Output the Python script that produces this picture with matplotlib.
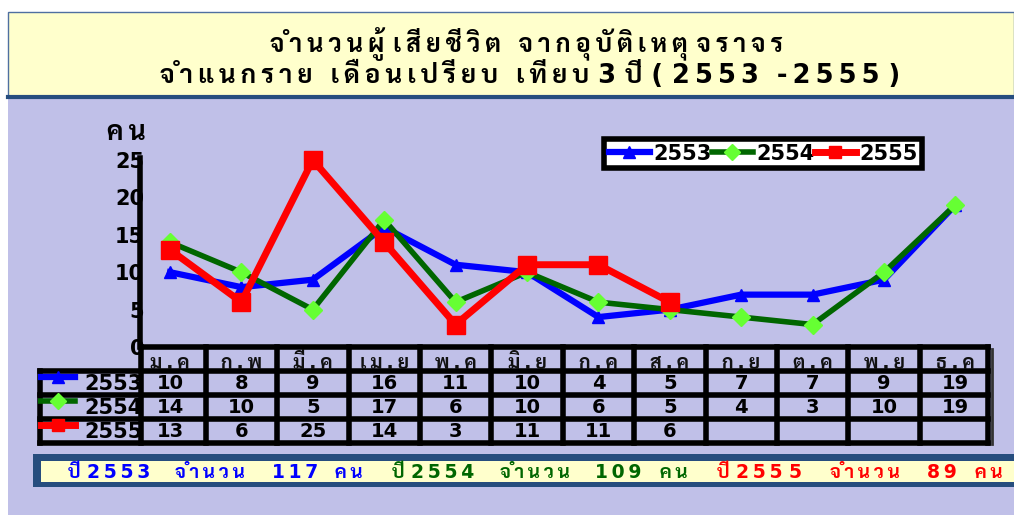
import matplotlib
matplotlib.use("Agg")
import matplotlib.pyplot as plt
from matplotlib.patches import Rectangle
import numpy as np

plt.rcParams['font.family'] = ['DejaVu Sans', 'Sarabun']
plt.rcParams['font.weight'] = 'bold'

# data
months = ['ม.ค', 'ก.พ', 'มี.ค', 'เม.ย', 'พ.ค', 'มิ.ย', 'ก.ค', 'ส.ค', 'ก.ย', 'ต.ค', 'พ.ย', 'ธ.ค']
years = ['2553', '2554', '2555']
y2553 = [10, 8, 9, 16, 11, 10, 4, 5, 7, 7, 9, 19]
y2554 = [14, 10, 5, 17, 6, 10, 6, 5, 4, 3, 10, 19]
y2555 = [13, 6, 25, 14, 3, 11, 11, 6]
totals = [117, 109, 89]
yticks = [0, 5, 10, 15, 20, 25]

lav = '#C0C0E8'
yel = '#FFFFCC'
navy = '#264D7E'
W, H = 1014, 515

MARKS = set(chr(c) for c in [0x0E31] + list(range(0x0E34, 0x0E3B)) + list(range(0x0E47, 0x0E4F)))


def spaced(s, gap='\u2009'):
    # add thin spaces between glyph clusters (keeps thai marks attached)
    out = ''
    for i, ch in enumerate(s):
        out += ch
        nxt = s[i + 1] if i + 1 < len(s) else None
        if nxt is not None and nxt not in MARKS and ch != ' ' and nxt != ' ':
            out += gap
    return out


fig = plt.figure(figsize=(10.14, 5.15), dpi=100)
fig.patch.set_facecolor('white')

# background / decoration axes in pixel coords
bg = fig.add_axes([0, 0, 1, 1])
bg.set_xlim(0, W)
bg.set_ylim(H, 0)
bg.axis('off')
bg.add_patch(Rectangle((8, 12), W - 8, H - 12, facecolor=lav, edgecolor='none'))
bg.add_patch(Rectangle((8, 12), W - 8, 84, facecolor=yel, edgecolor='#4F6FA0', lw=1))
bg.plot([8, W], [96.5, 96.5], color=navy, lw=3)
bg.text(527, 44, spaced('จำนวนผู้ เสียชีวิต  จากอุบัติเหตุ จราจร'), ha='center', va='center',
        fontsize=18)
bg.text(530, 75, spaced('จำแนกราย  เดือนเปรียบ  เทียบ 3 ปี ( 2553  -2555 )'), ha='center',
        va='center', fontsize=18.5)
bg.text(126, 133, spaced('คน'), ha='center', va='center', fontsize=19)

# bottom summary box
bg.add_patch(Rectangle((33, 454), W - 33, 33, facecolor=navy, edgecolor='none'))
bg.add_patch(Rectangle((41, 461), W - 41, 21, facecolor=yel, edgecolor='none'))
cols = ['#0000FF', '#006600', '#FF0000']
segx = [(68, 175, 272, 335), (392, 500, 595, 660), (717, 830, 927, 975)]
yrlab = ['ปี 2553', 'ปี 2554', 'ปี 255 5']
for k in range(3):
    xs = segx[k]
    for x, s in zip(xs, [yrlab[k], 'จำนวน', str(totals[k]), 'คน']):
        bg.text(x, 472, spaced(s), ha='left', va='center', color=cols[k], fontsize=13.5)

# chart axes
x0 = 170.0
dx = 71.4


def u(px):
    return (px - x0) / dx


ax = fig.add_axes([140 / W, (H - 347) / H, 850 / W, 187 / H])
ax.patch.set_alpha(0)
ax.set_xlim(u(140), u(990))
ax.set_ylim(0, 25)
for s in ['top', 'right', 'bottom']:
    ax.spines[s].set_visible(False)
ax.spines['left'].set_linewidth(4)
ax.spines['left'].set_bounds(0, 25.3)
ax.set_xticks([])
ax.set_yticks(yticks)
ax.tick_params(axis='y', length=0, pad=-3, labelsize=15)

xm = np.arange(len(months))
h1, = ax.plot(xm, y2553, color='#0000FF', lw=4.5, marker='^', ms=9, mfc='#0000FF',
              mec='#0000FF', zorder=3)
h2, = ax.plot(xm, y2554, color='#006600', lw=4, marker='D', ms=9, mfc='#66FF33',
              mec='#66FF33', zorder=4)
h3, = ax.plot(np.arange(len(y2555)), y2555, color='#FF0000', lw=5, marker='s', ms=13,
              mfc='#FF0000', mec='#FF0000', zorder=5)
for l in (h1, h2, h3):
    l.set_clip_on(False)

leg = fig.legend([h1, h2, h3], years, loc='upper left',
                 bbox_to_anchor=(594 / W, 1 - 129 / H), ncol=3, frameon=True,
                 fancybox=False, edgecolor='black', facecolor='white', framealpha=1,
                 borderpad=0.2, handlelength=2.0, handletextpad=0.15, columnspacing=0.0,
                 prop={'weight': 'bold', 'size': 15})
leg.get_frame().set_linewidth(4)
for lh in leg.legend_handles:
    lh.set_markersize(8)

# table axes
tb = fig.add_axes([38 / W, (H - 443) / H, (991 - 38) / W, 96 / H])
tb.set_xlim(u(38), u(991))
tb.set_ylim(4, 0)
tb.axis('off')
lw = 4
xl, xa, xr = u(40), u(141), u(988)
tb.plot([xa, xr], [0, 0], color='black', lw=lw, clip_on=False)
for r in range(1, 5):
    tb.plot([xl, xr], [r, r], color='black', lw=lw, clip_on=False)
tb.plot([xl, xl], [1, 4], color='black', lw=lw, clip_on=False)
for v in [xa] + [i + 0.5 for i in range(11)] + [xr]:
    tb.plot([v, v], [0, 4], color='black', lw=lw, clip_on=False)
tb.plot([xr + 0.06, xr + 0.06], [0.1, 4.05], color='#333333', lw=2, clip_on=False)

for i, m in enumerate(months):
    tb.text(i, 0.68, spaced(m), ha='center', va='center', fontsize=14, color='#111111')
series = [y2553, y2554, y2555]
for r, vals in enumerate(series):
    for i, v in enumerate(vals):
        tb.text(i, r + 1.52, str(v), ha='center', va='center', fontsize=14)
    tb.text(xa + 0.02, r + 1.55, years[r], ha='right', va='center', fontsize=15,
            clip_on=False)

# row key icons
keys = [h1, h2, h3]
for r, h in enumerate(keys):
    yy = r + 1.25
    tb.plot([u(40), u(75)], [yy, yy], color=h.get_color(), lw=h.get_linewidth())
    tb.plot([u(58)], [yy], marker=h.get_marker(), ms=8, mfc=h.get_mfc(),
            mec=h.get_mec(), ls='none')

fig.savefig('out.png', dpi=100, facecolor=fig.get_facecolor())
